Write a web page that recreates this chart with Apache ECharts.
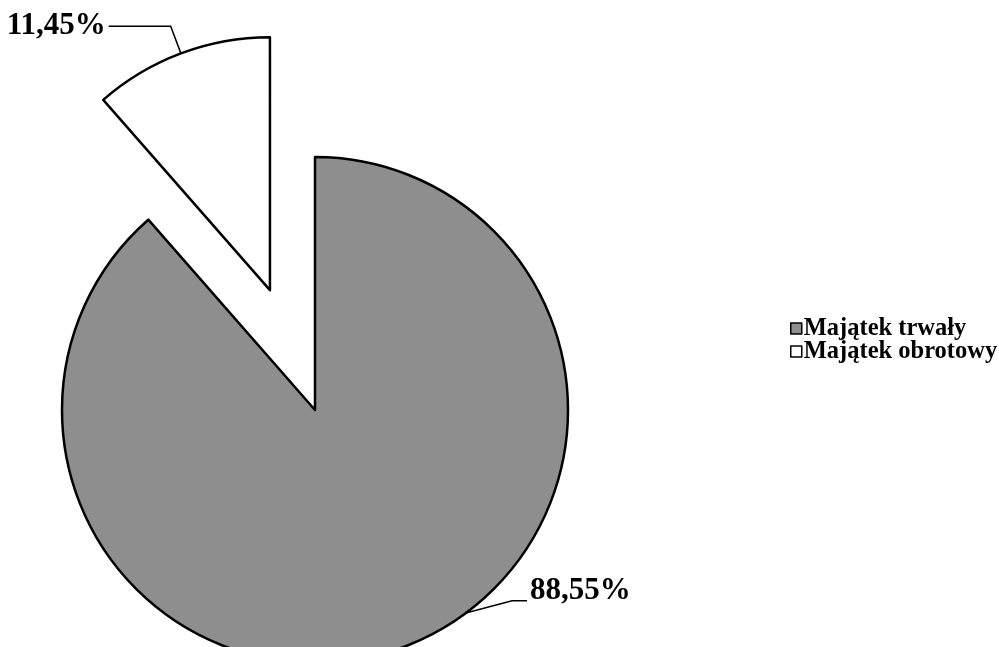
<!DOCTYPE html>
<html>
<head>
<meta charset="utf-8">
<script src="https://cdn.jsdelivr.net/npm/echarts@6/dist/echarts.min.js"></script>
<style>
html,body{margin:0;padding:0;background:#fff;}
#chart{width:999px;height:647px;}
</style>
</head>
<body>
<div id="chart"></div>
<script>
const categories = ['Majątek trwały', 'Majątek obrotowy'];
const shares = [88.55, 11.45];
const sliceColors = ['#8e8e8e', '#ffffff'];
const explodedIndex = 1;

const chart = echarts.init(document.getElementById('chart'), null, {renderer: 'canvas'});
const fmt = v => v.toFixed(2).replace('.', ',') + '%';

chart.setOption({
  animation: false,
  backgroundColor: '#ffffff',
  legend: {
    orient: 'vertical',
    left: 785,
    top: 311,
    itemWidth: 11,
    itemHeight: 11,
    itemGap: -2,
    selectedMode: false,
    icon: 'rect',
    itemStyle: {borderColor: '#000', borderWidth: 1.5},
    textStyle: {fontFamily: 'Liberation Serif', fontWeight: 'bold', fontSize: 24.5, color: '#000', lineHeight: 23, padding: [0,0,0,-3]},
    data: categories
  },
  series: [{
    type: 'pie',
    center: [315, 410],
    radius: 253,
    startAngle: 90,
    clockwise: true,
    selectedMode: 'single',
    selectedOffset: 128,
    avoidLabelOverlap: false,
    itemStyle: {borderColor: '#000', borderWidth: 2.5},
    label: {
      show: true,
      position: 'outside',
      formatter: p => fmt(p.value),
      fontFamily: 'Liberation Serif',
      fontWeight: 'bold',
      fontSize: 31,
      color: '#000',
      distanceToLabelLine: 3
    },
    labelLine: {show: true, length: 29, length2: 62, lineStyle: {color: '#000', width: 1.5}},
    labelLayout: function (p) {
      if (p.dataIndex !== 0 || !p.labelLinePoints) return {};
      const a = p.labelLinePoints[0];
      const s = [a[0] + 6, a[1] - 19];
      const k = [a[0] + 108, a[1] - 46];
      const e = [a[0] + 123, a[1] - 46];
      return {
        x: e[0] + 3,
        y: e[1] - 10,
        align: 'left',
        verticalAlign: 'middle',
        labelLinePoints: [s, k, e]
      };
    },
    emphasis: {disabled: true},
    data: categories.map((name, i) => ({
      name: name,
      value: shares[i],
      selected: i === explodedIndex,
      itemStyle: {color: sliceColors[i]}
    }))
  }]
});
</script>
</body>
</html>
